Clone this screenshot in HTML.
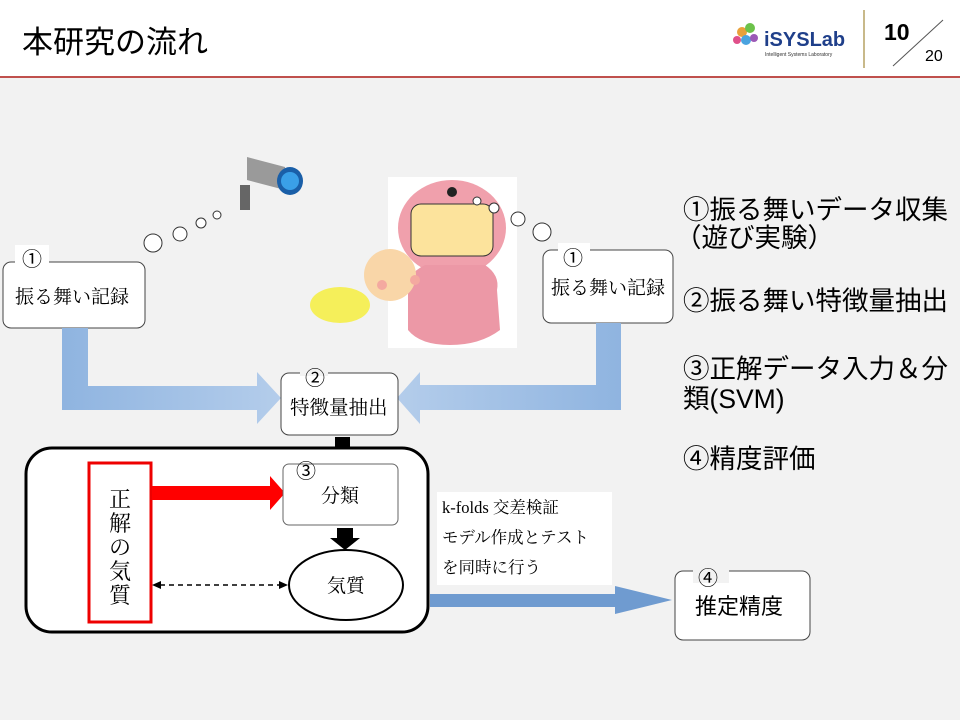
<!DOCTYPE html>
<html><head><meta charset="utf-8"><style>
body{margin:0;width:960px;height:720px;overflow:hidden;background:#f2f2f2;}
svg{display:block}
.s{font-family:"Liberation Serif","Noto Serif CJK SC",serif;}
.g{font-family:"Liberation Sans","Noto Sans CJK JP",sans-serif;}
</style></head><body>
<svg width="960" height="720" viewBox="0 0 960 720">
<defs>
<linearGradient id="bl" x1="0" x2="1" y1="0" y2="0"><stop offset="0" stop-color="#8fb4e0"/><stop offset="1" stop-color="#b4cdeb"/></linearGradient>
<linearGradient id="br" x1="1" x2="0" y1="0" y2="0"><stop offset="0" stop-color="#8fb4e0"/><stop offset="1" stop-color="#b4cdeb"/></linearGradient>
</defs>
<rect x="0" y="0" width="960" height="77" fill="#fff"/>
<rect x="0" y="76" width="960" height="2" fill="#c0504d"/>
<text x="22" y="53" class="g" font-size="31" fill="#000">本研究の流れ</text>
<g>
<circle cx="742" cy="32" r="5" fill="#e9a13b"/><circle cx="750" cy="28" r="5" fill="#6cc24a"/><circle cx="746" cy="40" r="5" fill="#4aa3df"/><circle cx="737" cy="40" r="4" fill="#e0508a"/><circle cx="754" cy="38" r="4" fill="#9b59b6"/>
<text x="764" y="46" class="g" font-size="20" font-weight="bold" fill="#1f3f8a">iSYSLab</text>
<text x="765" y="56" class="g" font-size="5" fill="#333">Intelligent Systems Laboratory</text>
</g>
<rect x="863" y="10" width="2" height="58" fill="#c8b98a"/>
<text x="884" y="40" class="g" font-size="23" font-weight="bold">10</text>
<line x1="893" y1="66" x2="943" y2="20" stroke="#555" stroke-width="1"/>
<text x="925" y="61" class="g" font-size="16">20</text>

<g>
<rect x="240" y="185" width="10" height="25" fill="#666"/>
<polygon points="247,157 285,167 285,190 247,180" fill="#9a9a9a"/>
<ellipse cx="290" cy="181" rx="13" ry="14" fill="#1a5fa8"/>
<circle cx="290" cy="181" r="9" fill="#3aa0e8"/>
</g>
<circle cx="153" cy="243" r="9" fill="#fff" stroke="#333"/>
<circle cx="180" cy="234" r="7" fill="#fff" stroke="#333"/>
<circle cx="201" cy="223" r="5" fill="#fff" stroke="#333"/>
<circle cx="217" cy="215" r="4" fill="#fff" stroke="#333"/>

<rect x="388" y="177" width="129" height="171" fill="#fff"/>
<ellipse cx="452" cy="228" rx="54" ry="48" fill="#f0a0ac"/>
<path d="M408,290 Q405,275 425,265 L485,265 Q500,275 497,290 L500,330 Q480,345 450,345 Q420,345 408,330Z" fill="#ec98a6"/>
<rect x="411" y="204" width="82" height="52" rx="10" fill="#fce39c" stroke="#333"/>
<circle cx="452" cy="192" r="5" fill="#222"/>
<circle cx="477" cy="201" r="4" fill="#fff" stroke="#333"/>
<circle cx="494" cy="208" r="5" fill="#fff" stroke="#333"/>
<circle cx="518" cy="219" r="7" fill="#fff" stroke="#333"/>
<circle cx="542" cy="232" r="9" fill="#fff" stroke="#333"/>
<ellipse cx="340" cy="305" rx="30" ry="18" fill="#f5ef5a"/>
<circle cx="390" cy="275" r="26" fill="#f9d6a8"/>
<circle cx="382" cy="285" r="5" fill="#f4a9a0"/>
<circle cx="415" cy="280" r="5" fill="#f4a9a0"/>

<rect x="3" y="262" width="142" height="66" rx="8" fill="#fff" stroke="#444"/>
<rect x="15" y="245" width="34" height="20" fill="#fff"/>
<text x="22" y="266" class="g" font-size="20">①</text>
<text x="15" y="303" class="s" font-size="19">振る舞い記録</text>
<rect x="543" y="250" width="130" height="73" rx="8" fill="#fff" stroke="#444"/>
<rect x="558" y="243" width="32" height="20" fill="#fff"/>
<text x="563" y="265" class="g" font-size="20">①</text>
<text x="551" y="294" class="s" font-size="19">振る舞い記録</text>

<path d="M62,328 L88,328 L88,386 L257,386 L257,372 L281,398 L257,424 L257,410 L62,410Z" fill="url(#bl)"/>
<path d="M621,323 L596,323 L596,385 L420,385 L420,372 L397,398 L420,424 L420,410 L621,410Z" fill="url(#br)"/>

<rect x="281" y="373" width="117" height="62" rx="8" fill="#fff" stroke="#444"/>
<rect x="300" y="356" width="28" height="20" fill="#f2f2f2"/>
<text x="305" y="385" class="g" font-size="20">②</text>
<text x="290" y="414" class="s" font-size="19.5">特徴量抽出</text>
<polygon points="335,437 350,437 350,447 358,447 342,460 326,447 335,447" fill="#000"/>

<rect x="26" y="448" width="402" height="184" rx="26" fill="#fff" stroke="#000" stroke-width="3"/>
<rect x="89" y="463" width="62" height="159" fill="#fff" stroke="#e00" stroke-width="3"/>
<g class="s" font-size="22" text-anchor="middle"><text x="120" y="507">正</text><text x="120" y="531">解</text><text x="120" y="555">の</text><text x="120" y="579">気</text><text x="120" y="603">質</text></g>
<polygon points="152,486 270,486 270,476 285,493 270,510 270,500 152,500" fill="#f00"/>
<rect x="283" y="464" width="115" height="61" rx="6" fill="#fff" stroke="#666"/>
<text x="296" y="478" class="g" font-size="20">③</text>
<text x="321" y="502" class="s" font-size="19">分類</text>
<polygon points="337,528 353,528 353,538 360,538 345,550 330,538 337,538" fill="#000"/>
<ellipse cx="346" cy="585" rx="57" ry="35" fill="#fff" stroke="#000" stroke-width="2"/>
<text x="327" y="592" class="s" font-size="19">気質</text>
<line x1="160" y1="585" x2="280" y2="585" stroke="#000" stroke-width="1.5" stroke-dasharray="5,4"/>
<polygon points="152,585 161,581 161,589" fill="#000"/><polygon points="288,585 279,581 279,589" fill="#000"/>

<rect x="437" y="492" width="175" height="93" fill="#fff"/>
<g class="s" font-size="16.5"><text x="442" y="513">k-folds 交差検証</text><text x="442" y="543">モデル作成とテスト</text><text x="442" y="573">を同時に行う</text></g>
<path d="M430,594 L615,594 L615,586 L672,600 L615,614 L615,607 L430,607Z" fill="#6f9bd0"/>

<rect x="675" y="571" width="135" height="69" rx="8" fill="#fff" stroke="#444"/>
<rect x="693" y="563" width="36" height="20" fill="#f2f2f2"/>
<text x="698" y="585" class="g" font-size="20">④</text>
<text x="695" y="614" class="g" font-size="22">推定精度</text>

<g class="g" font-size="26.5" fill="#000">
<text x="683" y="219">①振る舞いデータ収集</text>
<text x="675" y="247">（遊び実験）</text>
<text x="683" y="310">②振る舞い特徴量抽出</text>
<text x="683" y="378">③正解データ入力＆分</text>
<text x="683" y="408">類(SVM)</text>
<text x="683" y="468">④精度評価</text>
</g>
</svg>
</body></html>
